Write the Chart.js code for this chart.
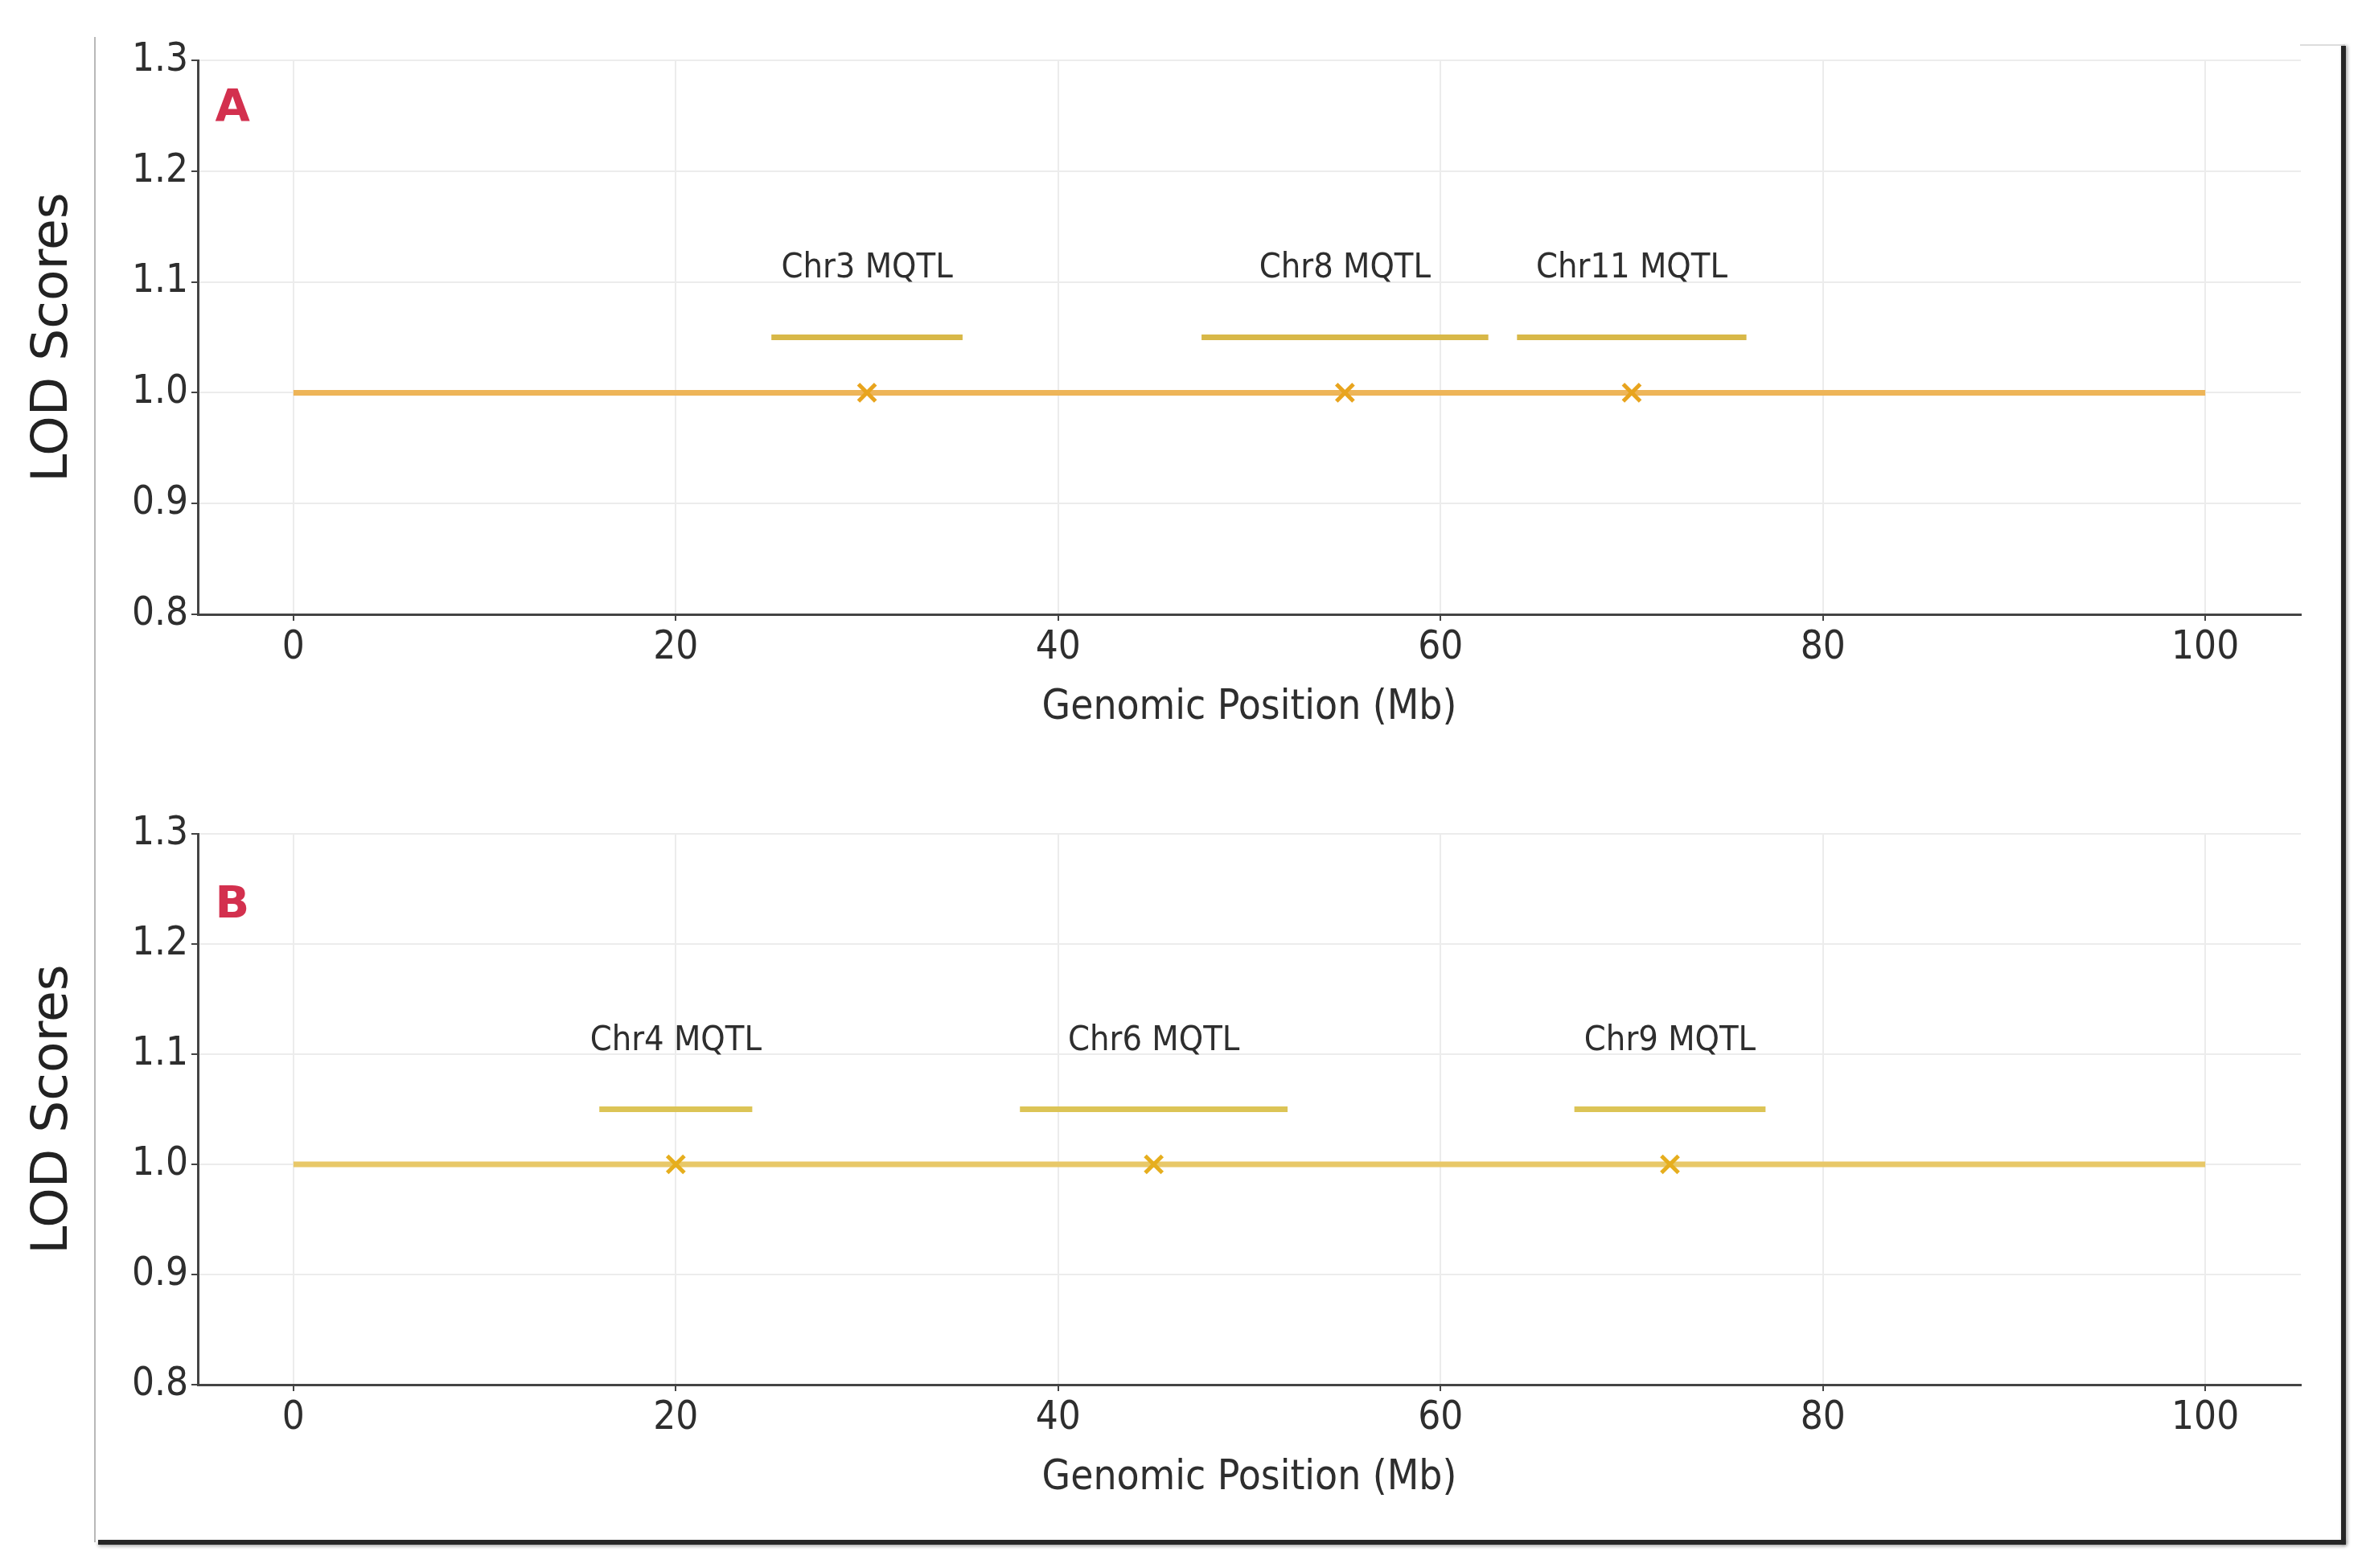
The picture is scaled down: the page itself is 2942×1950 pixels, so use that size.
<!DOCTYPE html>
<html>
<head>
<meta charset="utf-8">
<script src="https://cdn.jsdelivr.net/npm/chart.js@4.4.1/dist/chart.umd.min.js"></script>
<style>
    html, body {
        margin: 0;
        padding: 0;
        background: #ffffff;
    }
    #page {
        position: relative;
        width: 2942px;
        height: 1950px;
        overflow: hidden;
        background: #ffffff;
    }
    .panel {
        position: absolute;
        left: 0;
        width: 2942px;
        height: 975px;
    }
    .frame-left {
        position: absolute;
        left: 117px;
        top: 46px;
        width: 2px;
        height: 1872px;
        background: #b8b8b8;
    }
    .frame-right {
        position: absolute;
        left: 2911px;
        top: 57px;
        width: 6px;
        height: 1864px;
        background: #262626;
        box-shadow: 2px 0 4px rgba(0, 0, 0, 0.35);
    }
    .frame-bottom {
        position: absolute;
        left: 122px;
        top: 1915px;
        width: 2795px;
        height: 6px;
        background: #262626;
        box-shadow: 0 2px 4px rgba(0, 0, 0, 0.35);
    }
    .frame-top {
        position: absolute;
        left: 2860px;
        top: 55px;
        width: 56px;
        height: 2px;
        background: #dddddd;
    }
</style>
</head>
<body>
<div id="page">
    <div class="panel" style="top:0px"><canvas id="chartA"></canvas></div>
    <div class="panel" style="top:962px"><canvas id="chartB"></canvas></div>
    <div class="frame-left"></div>
    <div class="frame-top"></div>
    <div class="frame-right"></div>
    <div class="frame-bottom"></div>
</div>

<script>
// ==================== DATA ====================

const xTicks = [0, 20, 40, 60, 80, 100];
const yTicks = [0.8, 0.9, 1.0, 1.1, 1.2, 1.3];
const genomeRange = [0, 100];
const baselineLod = 1.0;
const intervalLod = 1.05;
const labelLod = 1.112;

// Panel A
const panelANames = ['Chr3 MQTL', 'Chr8 MQTL', 'Chr11 MQTL'];
const panelAPeaks = [30, 55, 70];
const panelAStarts = [25, 47.5, 64];
const panelAEnds = [35, 62.5, 76];

// Panel B
const panelBNames = ['Chr4 MQTL', 'Chr6 MQTL', 'Chr9 MQTL'];
const panelBPeaks = [20, 45, 72];
const panelBStarts = [16, 38, 67];
const panelBEnds = [24, 52, 77];

// ==================== STYLE ====================

const condensed = '"DejaVu Sans Condensed", "Liberation Sans Narrow", "DejaVu Sans", sans-serif';
const regular = '"DejaVu Sans", sans-serif';
const axisColor = '#444444';
const gridColor = '#ececec';
const textColor = '#2e2e2e';

// ==================== CHART BUILDER ====================

function buildPanel(canvasId, cfg) {
    const datasets = [];

    // genome baseline
    datasets.push({
        data: genomeRange.map(v => ({ x: v, y: baselineLod })),
        showLine: true,
        borderColor: cfg.baseColor,
        borderWidth: 7,
        pointRadius: 0,
        order: 3
    });

    // confidence intervals
    cfg.starts.forEach((s, i) => {
        datasets.push({
            data: [{ x: s, y: intervalLod }, { x: cfg.ends[i], y: intervalLod }],
            showLine: true,
            borderColor: cfg.intervalColor,
            borderWidth: 7,
            pointRadius: 0,
            order: 2
        });
    });

    // peak markers
    datasets.push({
        data: cfg.peaks.map(p => ({ x: p, y: baselineLod })),
        showLine: false,
        pointStyle: 'crossRot',
        pointRadius: 15,
        borderColor: cfg.markerColor,
        borderWidth: 5,
        order: 1
    });

    const labelPlugin = {
        id: 'mqtlLabels' + canvasId,
        afterDatasetsDraw(chart) {
            const { ctx, scales: { x, y } } = chart;
            ctx.save();
            ctx.font = '43px ' + condensed;
            ctx.fillStyle = textColor;
            ctx.textAlign = 'center';
            ctx.textBaseline = 'middle';
            cfg.names.forEach((name, i) => {
                ctx.fillText(name, x.getPixelForValue(cfg.peaks[i]), y.getPixelForValue(labelLod));
            });

            // panel letter
            ctx.font = 'bold 56px ' + regular;
            ctx.fillStyle = '#d3304e';
            ctx.textAlign = 'left';
            ctx.fillText(cfg.letter, x.getPixelForValue(cfg.letterAt[0]), y.getPixelForValue(cfg.letterAt[1]));
            ctx.restore();
        }
    };

    const ctx = document.getElementById(canvasId).getContext('2d');
    return new Chart(ctx, {
        type: 'scatter',
        data: { datasets: datasets },
        options: {
            responsive: false,
            animation: false,
            maintainAspectRatio: false,
            layout: {
                padding: { left: 0, right: 81, top: 75, bottom: cfg.padBottom }
            },
            plugins: {
                legend: { display: false },
                tooltip: { enabled: false }
            },
            scales: {
                x: {
                    type: 'linear',
                    min: -5,
                    max: 105,
                    afterBuildTicks: scale => {
                        scale.ticks = xTicks.map(v => ({ value: v }));
                    },
                    afterFit: scale => {
                        scale.height = 211;
                    },
                    ticks: {
                        color: textColor,
                        font: { family: condensed, size: 49 },
                        padding: 5,
                        maxRotation: 0,
                        callback: v => String(v)
                    },
                    grid: {
                        color: gridColor,
                        lineWidth: 2,
                        tickColor: axisColor,
                        tickLength: 8,
                        tickWidth: 2
                    },
                    border: { color: axisColor, width: 3 },
                    title: {
                        display: true,
                        text: 'Genomic Position (Mb)',
                        color: textColor,
                        font: { family: condensed, size: 51 },
                        padding: { top: 0, bottom: 64 }
                    }
                },
                y: {
                    type: 'linear',
                    min: 0.8,
                    max: 1.3,
                    afterBuildTicks: scale => {
                        scale.ticks = yTicks.map(v => ({ value: v }));
                    },
                    afterFit: scale => {
                        scale.width = 246;
                    },
                    ticks: {
                        color: textColor,
                        font: { family: condensed, size: 49 },
                        padding: 4,
                        callback: v => Number(v).toFixed(1)
                    },
                    grid: {
                        color: gridColor,
                        lineWidth: 2,
                        tickColor: axisColor,
                        tickLength: 8,
                        tickWidth: 2
                    },
                    border: { color: axisColor, width: 3 },
                    title: {
                        display: true,
                        text: 'LOD Scores',
                        color: '#222222',
                        font: { family: regular, size: 63 },
                        padding: { top: 29, bottom: 0 }
                    }
                }
            }
        },
        plugins: [labelPlugin]
    });
}

// ==================== INITIALIZATION ====================

function setupCanvas(id) {
    const c = document.getElementById(id);
    c.width = 2942;
    c.height = 975;
    c.style.width = '2942px';
    c.style.height = '975px';
}

setupCanvas('chartA');
setupCanvas('chartB');

buildPanel('chartA', {
    names: panelANames,
    peaks: panelAPeaks,
    starts: panelAStarts,
    ends: panelAEnds,
    letter: 'A',
    letterAt: [-4.1, 1.256],
    baseColor: '#eeb558',
    intervalColor: '#d8b848',
    markerColor: '#e8a41e',
    padBottom: 0
});

buildPanel('chartB', {
    names: panelBNames,
    peaks: panelBPeaks,
    starts: panelBStarts,
    ends: panelBEnds,
    letter: 'B',
    letterAt: [-4.1, 1.235],
    baseColor: '#e8c868',
    intervalColor: '#dcc456',
    markerColor: '#e6ae1e',
    padBottom: 4
});
</script>
</body>
</html>
